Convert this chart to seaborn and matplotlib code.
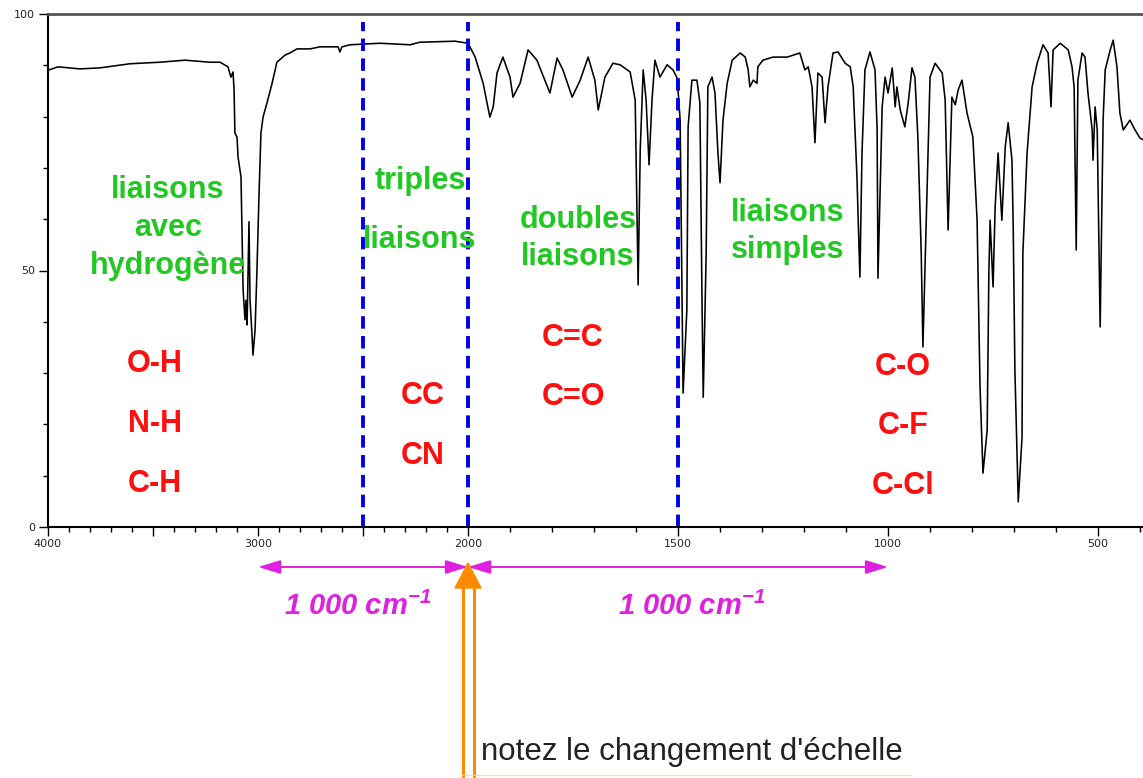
import numpy as np
import pandas as pd
import matplotlib
matplotlib.use('Agg')
import matplotlib.pyplot as plt
import seaborn as sns
from matplotlib.lines import Line2D
from matplotlib.patches import Polygon
from matplotlib.transforms import IdentityTransform

# IR spectrum: wavenumber (cm-1) and transmittance (%)
wavenumber = [
    3995, 3952, 3848, 3752, 3610, 3467, 3348, 3229, 3181, 3143,
    3129, 3119, 3114, 3110, 3100, 3095, 3081, 3076, 3071, 3062,
    3057, 3052, 3043, 3038, 3029, 3024, 3014, 3005, 2995, 2986,
    2976, 2957, 2933, 2910, 2871, 2848, 2814, 2752, 2705, 2619,
    2610, 2600, 2562, 2419, 2276, 2229, 2062, 2000,
    1983, 1964, 1948, 1940, 1931, 1917, 1900, 1893, 1876, 1857,
    1836, 1817, 1805, 1788, 1774, 1752, 1733, 1714, 1698, 1690,
    1674, 1655, 1638, 1614, 1602, 1595, 1590, 1583, 1576, 1569,
    1562, 1555, 1543, 1526, 1512, 1502,
    1495, 1488, 1479, 1476, 1467, 1455, 1448, 1443, 1440, 1433,
    1429, 1419, 1412, 1405, 1400, 1393, 1383, 1371, 1352, 1340,
    1333, 1329, 1321, 1312, 1310, 1298, 1274, 1240, 1210, 1198,
    1190, 1181, 1174, 1167, 1157, 1150, 1143, 1131, 1119, 1102,
    1090, 1083, 1074, 1067, 1062, 1055, 1043, 1031, 1026, 1024,
    1014, 1007, 1000,
    990, 983, 979, 971, 960, 952, 943, 936, 929, 921,
    917, 907, 900, 888, 871, 864, 857, 848, 840, 833,
    824, 812, 798, 788, 781, 774, 764, 760, 757, 750,
    745, 738, 729, 721, 714, 705, 702, 698, 690, 681,
    679, 669, 657, 645, 631, 619, 612, 607, 590, 571,
    562, 557, 552, 548, 538, 531, 524, 514, 512, 507,
    502, 495, 488, 483, 471, 464, 455, 448, 440, 424,
    412, 400, 393,
]
transmittance = [
    89.1, 89.7, 89.3, 89.5, 90.3, 90.6, 91.0, 90.6, 90.6, 89.7,
    87.7, 88.7, 85.2, 76.8, 76.0, 72.1, 68.2, 57.3, 46.2, 40.4,
    44.2, 39.4, 59.5, 44.2, 37.8, 33.5, 38.4, 50.1, 65.1, 76.8,
    79.9, 82.7, 86.5, 90.6, 92.0, 92.4, 93.2, 93.2, 93.6, 93.6,
    92.6, 93.6, 94.0, 94.3, 94.0, 94.5, 94.7, 94.3,
    91.6, 86.5, 79.9, 81.9, 88.5, 91.6, 87.7, 83.8, 86.5, 93.0,
    91.0, 87.1, 84.6, 91.4, 89.1, 83.8, 87.1, 91.6, 87.1, 81.3,
    87.7, 90.4, 90.1, 88.7, 83.2, 47.2, 73.5, 89.1, 83.2, 70.6,
    83.2, 91.0, 87.7, 90.1, 89.1, 87.5,
    79.3, 26.1, 42.3, 78.0, 87.1, 87.1, 82.7, 44.8, 25.3, 53.4,
    85.8, 87.7, 84.6, 72.9, 67.1, 79.3, 86.5, 91.0, 92.4, 91.6,
    89.1, 85.8, 87.1, 86.5, 89.7, 91.0, 91.6, 91.6, 92.4, 89.1,
    89.7, 85.8, 74.9, 88.5, 87.7, 78.8, 85.8, 92.4, 92.6, 90.4,
    89.7, 85.8, 68.2, 48.7, 72.9, 89.1, 92.6, 89.1, 77.4, 48.5,
    81.9, 87.7, 84.6,
    89.5, 81.9, 85.8, 81.3, 78.0, 82.7, 89.5, 87.7, 76.0, 53.4,
    35.1, 66.3, 87.7, 90.4, 88.5, 83.2, 57.9, 83.8, 82.3, 85.2,
    87.1, 80.7, 76.0, 59.8, 27.3, 10.5, 18.9, 49.5, 59.8, 46.8,
    62.4, 72.9, 59.8, 74.1, 78.8, 71.5, 58.5, 30.6, 4.9, 17.5,
    53.4, 72.9, 85.8, 90.4, 94.0, 92.4, 81.9, 93.0, 94.3, 93.0,
    89.7, 85.8, 54.0, 87.1, 92.4, 91.6, 84.6, 77.4, 71.5, 81.9,
    77.4, 39.0, 79.3, 89.1, 93.0, 94.9, 89.7, 80.7, 77.4, 79.3,
    77.4, 75.8, 75.5,
]
assert len(wavenumber) == len(transmittance)

region_limits = [2500, 2000, 1500]
family_lines = [['liaisons', 'avec', 'hydrogène'], ['triples', 'liaisons'],
                ['doubles', 'liaisons'], ['liaisons', 'simples']]
bond_lines = [['O-H', 'N-H', 'C-H'], ['CC', 'CN'], ['C=C', 'C=O'],
              ['C-O', 'C-F', 'C-Cl']]
span_label = '1 000 cm$^{-1}$'
note_label = "notez le changement d'échelle"

major_ticks = [4000, 3500, 3000, 2500, 2000, 1500, 1000, 500]
major_labels = ['4000', '', '3000', '', '2000', '1500', '1000', '500']
minor_ticks = list(range(3900, 399, -100))

df = pd.DataFrame({'wavenumber': wavenumber, 'T': transmittance})

sns.set_style('white')
plt.rcParams['font.family'] = ['Liberation Sans', 'DejaVu Sans']
plt.rcParams['mathtext.fontset'] = 'custom'
plt.rcParams['mathtext.rm'] = 'Liberation Sans:italic:bold'
plt.rcParams['mathtext.it'] = 'Liberation Sans:italic:bold'
plt.rcParams['mathtext.bf'] = 'Liberation Sans:italic:bold'


# the spectrometer halves the scale above 2000 cm-1
def fwd(w):
    w = np.asarray(w, dtype=float)
    return np.where(w > 2000, 2000 + (w - 2000) / 2, w)


def inv(u):
    u = np.asarray(u, dtype=float)
    return np.where(u > 2000, 2000 + (u - 2000) * 2, u)


fig = plt.figure(figsize=(11.43, 7.78), dpi=100)
ax = fig.add_axes([48 / 1143, 1 - 527 / 778, 1 - 48 / 1143, 513 / 778])

sns.lineplot(data=df, x='wavenumber', y='T', sort=False, estimator=None,
             color='black', lw=1.15, ax=ax)
ax.set_xscale('function', functions=(fwd, inv))
ax.set_xlim(4000, 393)
ax.set_ylim(0, 100)
ax.set(xlabel='', ylabel='')

ax.set_xticks(major_ticks)
ax.set_xticklabels(major_labels)
ax.set_xticks(minor_ticks, minor=True)
ax.set_yticks([0, 50, 100])
ax.set_yticklabels(['0', '50', '100'])
ax.set_yticks(range(10, 100, 10), minor=True)
ax.tick_params(which='both', bottom=True, left=True, top=False, right=False)
ax.tick_params(which='major', direction='out', length=6.5, width=1,
               color='black', labelsize=8, labelfontfamily='DejaVu Sans', pad=2)
ax.tick_params(which='minor', direction='out', length=3.5, width=1, color='black')
ax.tick_params(axis='y', which='major', pad=3)

ax.spines['right'].set_visible(False)
ax.spines['left'].set_linewidth(1.5)
ax.spines['bottom'].set_linewidth(1.5)
ax.spines['left'].set_color('black')
ax.spines['bottom'].set_color('black')
ax.spines['top'].set_linewidth(2)
ax.spines['top'].set_color('#555555')
ax.grid(False)

for w in region_limits:
    ax.axvline(w, ymin=0, ymax=0.985, color='#0000e6', lw=2.8, dashes=(3.2, 1.9))

green = '#22c822'
red = '#ff1010'
family_pos = [(3430, [65.7, 58.3, 50.9]), (2229, [67.4, 55.9]),
              (1738, [59.8, 52.6]), (1240, [61.2, 54.0])]
bond_pos = [(3490, [31.8, 20.1, 8.4]), (2214, [25.5, 13.8]),
            (1750, [36.8, 25.3]), (964, [31.2, 19.7, 8.0])]
for lines, (x, ys) in zip(family_lines, family_pos):
    for txt, y in zip(lines, ys):
        ax.text(x, y, txt, color=green, fontsize=22, fontweight='bold',
                ha='center', va='center')
for lines, (x, ys) in zip(bond_lines, bond_pos):
    for txt, y in zip(lines, ys):
        ax.text(x, y, txt, color=red, fontsize=22, fontweight='bold',
                ha='center', va='center')

# double arrows showing 1000 cm-1 on each side of the scale change
magenta = '#e020e0'
arrow_y = (527 - 567) / 513
for a, b in [(3000, 2000), (1000, 2000)]:
    ax.annotate('', xy=(b, arrow_y), xytext=(a, arrow_y),
                xycoords=('data', 'axes fraction'),
                arrowprops=dict(arrowstyle='<|-|>,head_length=0.85,head_width=0.26',
                                color=magenta, lw=1.4, mutation_scale=16,
                                shrinkA=0, shrinkB=0),
                annotation_clip=False)
text_y = (527 - 606) / 513
for x in [2524, 1467]:
    ax.text(x, text_y, span_label, transform=ax.get_xaxis_transform(),
            color=magenta, fontsize=21, fontweight='bold', fontstyle='italic',
            ha='center', va='center', clip_on=False)

# orange hollow arrow pointing at the scale change
fig.canvas.draw()
xp = ax.transData.transform((2000, 50))[0]
H = 778
orange = '#ff8a00'
for dx in (-5.5, 5.5):
    fig.add_artist(Line2D([xp + dx, xp + dx], [0, H - 588], color=orange,
                          lw=2.2, transform=IdentityTransform()))
fig.add_artist(Polygon([(xp - 13, H - 588), (xp + 13, H - 588), (xp, H - 563)],
                       closed=True, color=orange, transform=IdentityTransform()))
fig.add_artist(Line2D([xp - 6, 910], [3, 3], color='#ffd9a8', lw=1,
                      transform=IdentityTransform()))
fig.text(481 / 1143, 1 - 752 / 778, note_label, fontsize=22.5, color='#222222',
         ha='left', va='center')

fig.savefig('out.png', dpi=100)
